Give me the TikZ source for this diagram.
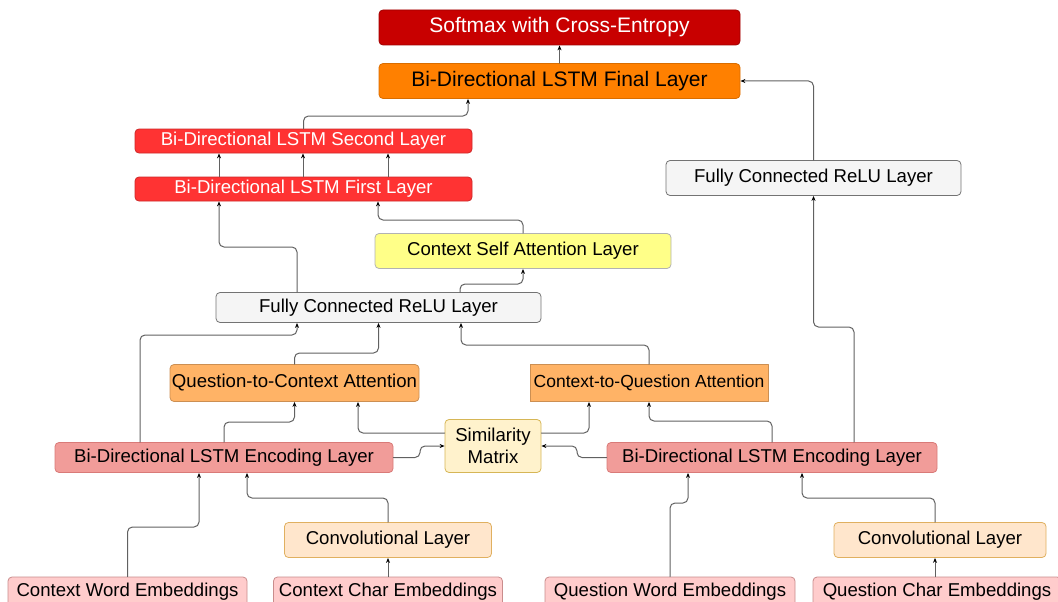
\documentclass[tikz,border=0pt]{standalone}
\usepackage{fontspec}
\setmainfont{Liberation Sans}
\usetikzlibrary{arrows.meta}

\definecolor{softred}{HTML}{C80000}
\definecolor{lstmorange}{HTML}{FF8000}
\definecolor{lstmred}{HTML}{FF3333}
\definecolor{fcgray}{HTML}{F5F5F5}
\definecolor{selfyellow}{HTML}{FFFF88}
\definecolor{attnorange}{HTML}{FFB366}
\definecolor{simfill}{HTML}{FFF2CC}
\definecolor{simline}{HTML}{D6B656}
\definecolor{encfill}{HTML}{F19C99}
\definecolor{encline}{HTML}{D97A78}
\definecolor{convfill}{HTML}{FFE6CC}
\definecolor{convline}{HTML}{E0B060}
\definecolor{embfill}{HTML}{FFCCCC}
\definecolor{embline}{HTML}{C98C8C}

\begin{document}
\begin{tikzpicture}[line cap=round,line join=round,x=1pt,y=-1pt,
    layer/.style={rounded corners=4pt, line width=0.8pt, inner sep=0pt, align=center,
      font=\fontsize{18.6}{22}\selectfont},
    bigbox/.style={layer, minimum width=361, minimum height=35, font=\fontsize{21}{25}\selectfont},
    lstm/.style={layer, fill=lstmred, draw=lstmred!80!black, text=white, minimum width=337, minimum height=24},
    fcbox/.style={layer, fill=fcgray, draw=black!55},
    attn/.style={layer, fill=attnorange, draw=attnorange!80!black, minimum height=37},
    enc/.style={layer, fill=encfill, draw=encline, minimum height=30},
    conv/.style={layer, fill=convfill, draw=convline, minimum height=35},
    emb/.style={layer, fill=embfill, draw=embline, minimum height=30},
    conn/.style={draw=black!62, line width=1pt, rounded corners=5pt,
      -{Stealth[length=5pt,width=4pt,black]}}]
  \useasboundingbox (0,0) rectangle (1058,602);

  % output side
  \node[bigbox, fill=softred, draw=softred!80!black, text=white] (softmax) at (559.5,27.5) {Softmax with Cross-Entropy};
  \node[bigbox, fill=lstmorange, draw=lstmorange!85!black] (final) at (559.5,81) {Bi-Directional LSTM Final Layer};
  \node[lstm] (second) at (303.5,141) {Bi-Directional LSTM Second Layer};
  \node[lstm] (first) at (303.5,189) {Bi-Directional LSTM First Layer};
  \node[fcbox, minimum width=295, minimum height=35] (fcr) at (813.5,178) {Fully Connected ReLU Layer};
  \node[layer, fill=selfyellow, draw=black!30, minimum width=296, minimum height=35] (selfatt) at (523,251) {Context Self Attention Layer};
  \node[fcbox, minimum width=325, minimum height=30] (fcl) at (378.5,307.5) {Fully Connected ReLU Layer};

  % attention
  \node[attn, minimum width=249] (q2c) at (294.5,383) {Question-to-Context Attention};
  \node[attn, minimum width=238, rounded corners=0pt, font=\fontsize{17.5}{21}\selectfont] (c2q) at (649,383) {Context-to-Question Attention};
  \node[layer, fill=simfill, draw=simline, minimum width=96, minimum height=53] (sim) at (493,446) {Similarity\\Matrix};

  % encoders
  \node[enc, minimum width=338] (encl) at (224,457.5) {Bi-Directional LSTM Encoding Layer};
  \node[enc, minimum width=330] (encr) at (772,457.5) {Bi-Directional LSTM Encoding Layer};
  \node[conv, minimum width=207] (convl) at (388,540) {Convolutional Layer};
  \node[conv, minimum width=212] (convr) at (940,540) {Convolutional Layer};

  % embeddings
  \node[emb, minimum width=239] (cwe) at (127.5,592) {Context Word Embeddings};
  \node[emb, minimum width=229] (cce) at (388,592) {Context Char Embeddings};
  \node[emb, minimum width=250] (qwe) at (670,592) {Question Word Embeddings};
  \node[emb, minimum width=248] (qce) at (937,592) {Question Char Embeddings};

  % connections, top part
  \draw[conn] (final.north) -- (softmax.south);
  \draw[conn] (second.north) |- (468,116) -- (final.south -| 468,0);
  \foreach \x in {219,303,388}
    \draw[conn] (first.north -| \x,0) -- (second.south -| \x,0);
  \draw[conn] (fcl.north -| 297,0) |- (219,247) -- (first.south -| 219,0);
  \draw[conn] (selfatt.north) |- (378,220) -- (first.south -| 378,0);
  \draw[conn] (fcl.north -| 460,0) |- (selfatt.south |- 0,284) -- (selfatt.south);
  \draw[conn] (fcr.north) |- (final.east);
  \draw[conn] (encr.north -| 854,0) |- (fcr.south |- 0,327) -- (fcr.south);

  % connections, attention part
  \draw[conn] (encl.north -| 140,0) |- (297,335) -- (fcl.south -| 297,0);
  \draw[conn] (q2c.north) |- (fcl.south |- 0,353) -- (fcl.south);
  \draw[conn] (c2q.north) |- (461,345) -- (fcl.south -| 461,0);
  \draw[conn] (encl.north) |- (q2c.south |- 0,422) -- (q2c.south);
  \draw[conn] (sim.west |- 0,433) -| (q2c.south -| 358,0);
  \draw[conn] (sim.east |- 0,433) -| (c2q.south -| 589,0);
  \draw[conn] (encr.north) |- (c2q.south |- 0,421) -- (c2q.south);
  \draw[conn] (encl.east) -| (420,446) -- (sim.west |- 0,446);
  \draw[conn] (encr.west) -| (577,446) -- (sim.east |- 0,446);

  % connections, input part
  \draw[conn] (cwe.north) |- (199,527) -- (encl.south -| 199,0);
  \draw[conn] (convl.north) |- (247,498) -- (encl.south -| 247,0);
  \draw[conn] (cce.north) -- (convl.south);
  \draw[conn] (qwe.north) |- (688,503) -- (encr.south -| 688,0);
  \draw[conn] (convr.north -| 935,0) |- (802,498) -- (encr.south -| 802,0);
  \draw[conn] (qce.north -| 935,0) -- (convr.south -| 935,0);
\end{tikzpicture}
\end{document}
